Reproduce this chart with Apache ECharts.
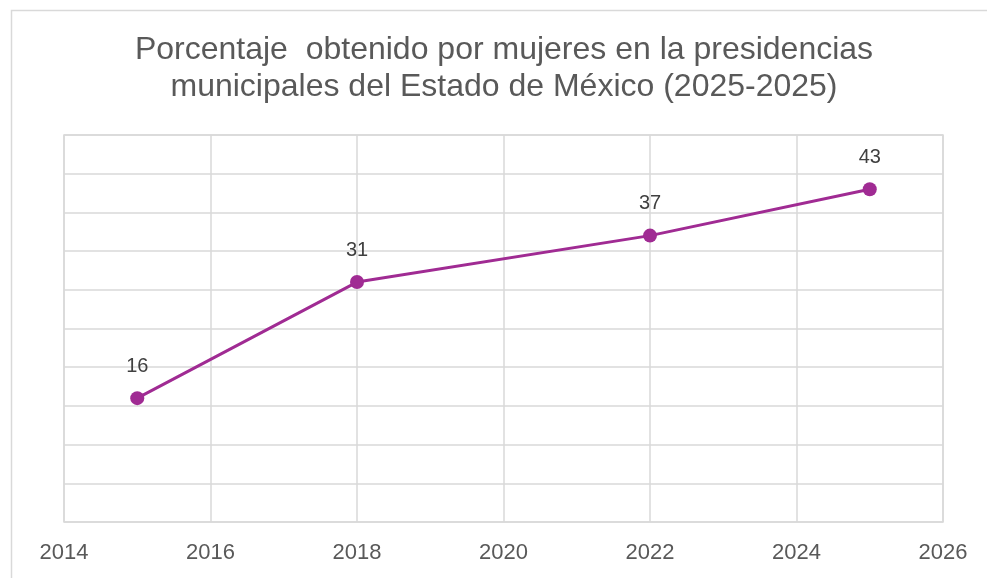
<!DOCTYPE html>
<html><head><meta charset="utf-8">
<script src="https://cdn.jsdelivr.net/npm/echarts@6/dist/echarts.min.js"></script>
<style>html,body{margin:0;padding:0;background:#fff}#c{width:987px;height:578px}</style>
</head><body><div id="c"></div>
<script>
const years = [2015, 2018, 2022, 2025];
const values = [16, 31, 37, 43];
const titleText = 'Porcentaje  obtenido por mujeres en la presidencias\nmunicipales del Estado de México (2025-2025)';

const chart = echarts.init(document.getElementById('c'), null, {renderer: 'canvas'});
chart.setOption({
  animation: false,
  backgroundColor: '#fff',
  graphic: [{
    type: 'rect', left: 9, top: 8, shape: {width: 1000, height: 600},
    style: {fill: 'none', stroke: '#d9d9d9', lineWidth: 1.5}, silent: true
  }],
  title: {
    text: titleText, left: 499, top: 27, textAlign: 'center',
    textStyle: {fontFamily: 'Liberation Sans, Arial, sans-serif', fontSize: 32, fontWeight: 'normal', color: '#595959', lineHeight: 37}
  },
  grid: {left: 64, right: 44, top: 135, bottom: 56, show: true, borderColor: '#d9d9d9', borderWidth: 1.5},
  xAxis: {
    type: 'value', min: 2014, max: 2026, interval: 2,
    axisLine: {show: false}, axisTick: {show: false},
    axisLabel: {margin: 20, formatter: v => String(v), fontFamily: 'Liberation Sans, Arial, sans-serif', fontSize: 22, color: '#595959'},
    splitLine: {show: true, lineStyle: {color: '#d9d9d9', width: 1.5}}
  },
  yAxis: {
    type: 'value', min: 0, max: 50, interval: 5,
    axisLine: {show: false}, axisTick: {show: false}, axisLabel: {show: false},
    splitLine: {show: true, lineStyle: {color: '#d9d9d9', width: 1.5}}
  },
  series: [{
    type: 'line',
    data: years.map((y, i) => [y, values[i]]),
    symbol: 'circle', symbolSize: 14,
    lineStyle: {color: '#A02B93', width: 3},
    itemStyle: {color: '#A02B93'},
    label: {show: true, position: 'top', distance: 15, fontFamily: 'Liberation Sans, Arial, sans-serif', fontSize: 20, color: '#404040'}
  }]
});
</script></body></html>
